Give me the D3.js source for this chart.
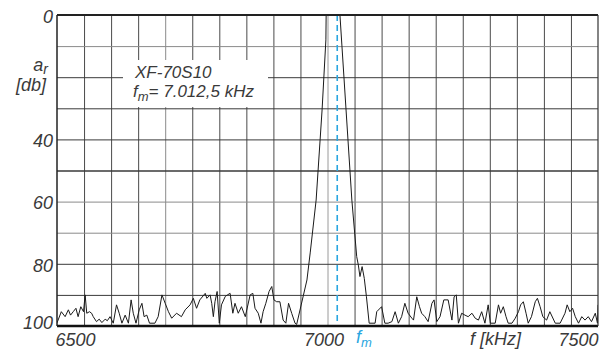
<!DOCTYPE html>
<meta charset="utf-8">
<style>
    body { margin: 0; background: #fff; }
    text { font-family: "Liberation Sans", Arial, sans-serif; font-style: italic; fill: #3a3a3a; }
    .grid line { stroke: #4a4a4a; stroke-width: 1; }
    .grid .domain { display: none; }
    .trace { fill: none; stroke: #1a1a1a; stroke-width: 1; }
</style>
<body>
<script src="https://cdn.jsdelivr.net/npm/d3@7"></script>
<script>
// attenuation curve (kHz / dB)
var freq = [6500, 6508, 6515, 6521, 6525, 6530, 6535, 6539, 6544, 6549, 6552, 6555, 6560, 6564, 6567,
    6573, 6578, 6583, 6589, 6593, 6598, 6604, 6610, 6615, 6620, 6626, 6632, 6637, 6641, 6646, 6652,
    6657, 6661, 6666, 6671, 6681, 6687, 6694, 6700, 6706, 6712, 6721, 6730, 6737, 6746, 6752, 6758,
    6764, 6774, 6777, 6783, 6786, 6789, 6792, 6796, 6800, 6804, 6811, 6815, 6820, 6825, 6829, 6835,
    6841, 6848, 6857, 6862, 6866, 6872, 6877, 6881, 6886, 6892, 6897, 6901, 6906, 6912, 6918, 6923,
    6928, 6934, 6940, 6943, 6962, 6968, 6979, 6990, 6997, 6997.5, 7023, 7045, 7054, 7057, 7060, 7064,
    7068, 7072, 7077, 7088, 7091, 7100, 7106, 7112, 7119, 7125, 7131, 7137, 7143, 7149, 7156, 7159,
    7165, 7170, 7174, 7180, 7186, 7193, 7197, 7202, 7208, 7215, 7223, 7230, 7234, 7238, 7242, 7248,
    7254, 7260, 7267, 7273, 7279, 7285, 7291, 7297, 7301, 7310, 7316, 7320, 7325, 7330, 7334, 7341,
    7347, 7353, 7357, 7362, 7367, 7371, 7377, 7384, 7388, 7393, 7398, 7405, 7411, 7421, 7430, 7439,
    7443, 7448, 7453, 7458, 7464, 7470, 7476, 7482, 7488, 7495, 7499, 7500];
var att = [99, 95.4, 97, 94.8, 96.5, 95.4, 94.3, 97, 93.8, 95.4, 90, 95.9, 95.4, 95.9, 97,
    98.6, 97.8, 98.9, 97.8, 98.3, 97, 99.1, 93.2, 95.9, 99.1, 96.5, 99.1, 91.6, 95.9, 99.1, 94.8,
    92.7, 97, 96.5, 99.1, 99.1, 97, 90, 92.7, 95.4, 97.5, 95.9, 97, 94.8, 93.2, 91.1, 94.3,
    91.6, 89.5, 91.1, 90, 92.7, 97, 92.2, 88.9, 99.1, 93.2, 90.5, 90, 89.5, 95.9, 92.7, 95.9,
    93.8, 97, 90, 89.5, 94.3, 95.9, 99.1, 95.4, 92.7, 88.9, 87.3, 91.6, 92.2, 92.2, 98.1, 99.1,
    92.7, 96, 99.1, 99.5, 85.2, 76.5, 59.5, 30.5, 8, 0, 0, 59.5, 77.7, 80.4, 84.1, 80.9,
    84.7, 90.6, 99.1, 99.1, 95.4, 93.8, 99.1, 99.1, 98.6, 95.4, 99.1, 97, 92.7, 95.9, 97.5, 98.1,
    90.6, 93.8, 95.9, 97, 98.6, 92.7, 91.6, 98.6, 97, 91.6, 91.6, 98.1, 90.6, 90, 99.1, 95.9,
    96.5, 97, 95.9, 97.5, 98.1, 95.4, 99.1, 93.2, 99.1, 99.1, 93.2, 95.9, 93.8, 97, 99.1, 99.1,
    97.5, 95.4, 93.2, 92.2, 95.9, 99.1, 97, 92.2, 91.1, 93.8, 97, 98.1, 95.4, 99.1, 99.1, 95.9,
    93.2, 95.4, 94.3, 97, 99.1, 97, 98.1, 97, 98.6, 95.9, 99.1, 93.2];

var xTicks = [6500, 7000, 7500];
var yTicks = [0, 40, 60, 80, 100];
var fmLine = 7018;   // dashed centre line as drawn

var width = 606, height = 349;
var x = d3.scaleLinear().domain([6500, 7500]).range([57, 598]);
var y = d3.scaleLinear().domain([0, 100]).range([15, 326]);

var svg = d3.select("body").append("svg")
    .attr("width", width)
    .attr("height", height);

// grid, every 50 kHz and every 10 dB
var vgrid = svg.append("g").attr("class", "grid")
    .attr("transform", "translate(0," + y(100) + ")")
    .call(d3.axisBottom(x).tickValues(d3.range(6550, 7500, 50)).tickSize(-(y(100) - y(0))).tickFormat(""));
vgrid.selectAll(".tick line")
    .style("stroke", function (d) { return d == 7000 ? "#9a9a9a" : d == 6700 ? "#8a8a8a" : "#4a4a4a"; });

var hgrid = svg.append("g").attr("class", "grid")
    .attr("transform", "translate(" + x(6500) + ",0)")
    .call(d3.axisLeft(y).tickValues(d3.range(10, 100, 10)).tickSize(-(x(7500) - x(6500))).tickFormat(""));
hgrid.selectAll(".tick line")
    .style("stroke", function (d) { return (d == 10 || d == 60 || d == 70) ? "#8a8a8a" : "#3a3a3a"; })
    .style("stroke-width", function (d) { return d == 50 ? 1.6 : 1; });

// box behind the title text
svg.append("rect")
    .attr("x", 123).attr("y", 60)
    .attr("width", 145).attr("height", 47)
    .attr("fill", "#fff");

// fm centre line
svg.append("line")
    .attr("x1", x(fmLine)).attr("x2", x(fmLine))
    .attr("y1", y(0)).attr("y2", y(100))
    .attr("stroke", "#2aa6e0")
    .attr("stroke-width", 1.6)
    .attr("stroke-dasharray", "6,4");

// the trace
svg.append("defs").append("clipPath").attr("id", "clip")
    .append("rect").attr("x", x(6500)).attr("y", y(0))
    .attr("width", x(7500) - x(6500)).attr("height", y(100) - y(0));

var pts = freq.map(function (f, i) { return [f, att[i]]; });
svg.append("path")
    .datum(pts)
    .attr("class", "trace")
    .attr("clip-path", "url(#clip)")
    .attr("d", d3.line().x(function (d) { return x(d[0]); }).y(function (d) { return y(d[1]); }));

// frame
svg.append("line").attr("x1", x(6500)).attr("x2", x(7500)).attr("y1", y(0)).attr("y2", y(0))
    .attr("stroke", "#222").attr("stroke-width", 2);
svg.append("line").attr("x1", x(6500)).attr("x2", x(7500)).attr("y1", y(100)).attr("y2", y(100))
    .attr("stroke", "#111").attr("stroke-width", 2.5);
svg.append("line").attr("x1", x(6500)).attr("x2", x(6500)).attr("y1", y(0)).attr("y2", y(100))
    .attr("stroke", "#222").attr("stroke-width", 1.5);
svg.append("line").attr("x1", x(7500)).attr("x2", x(7500)).attr("y1", y(0)).attr("y2", y(100))
    .attr("stroke", "#333").attr("stroke-width", 1.2);

// tick labels
var yAxis = svg.append("g")
    .attr("transform", "translate(" + x(6500) + ",0)")
    .call(d3.axisLeft(y).tickValues(yTicks).tickSize(0).tickPadding(4));
yAxis.select(".domain").remove();
yAxis.selectAll("text").style("font-size", "18px").attr("font-family", null)
    .attr("dy", function (d) { return d == 100 ? "0.15em" : "0.4em"; });

var xAxis = svg.append("g")
    .attr("transform", "translate(0," + y(100) + ")")
    .call(d3.axisBottom(x).tickValues(xTicks).tickFormat(d3.format("d")).tickSize(0).tickPadding(7));
xAxis.select(".domain").remove();
xAxis.selectAll("text").style("font-size", "18px").attr("font-family", null)
    .attr("text-anchor", function (d) { return d == 6500 ? "start" : d == 7500 ? "end" : "middle"; })
    .attr("dx", function (d) { return d == 6500 ? -2 : d == 7000 ? -4 : 0; });

// axis titles
var ar = svg.append("text").attr("x", 48).attr("y", 71).attr("text-anchor", "end").style("font-size", "18px");
ar.append("tspan").text("a");
ar.append("tspan").attr("dy", 3).style("font-size", "14px").text("r");
svg.append("text").attr("x", 46).attr("y", 91).attr("text-anchor", "end").style("font-size", "18px").text("[db]");

svg.append("text").attr("x", 470).attr("y", 345).style("font-size", "18px").text("f [kHz]");
var fm = svg.append("text").attr("x", 356).attr("y", 343).style("font-size", "18px").style("fill", "#2aa6e0");
fm.append("tspan").text("f");
fm.append("tspan").attr("dy", 4).style("font-size", "13px").text("m");

// title inside the box
svg.append("text").attr("x", 135).attr("y", 78).style("font-size", "17px").text("XF-70S10");
var t2 = svg.append("text").attr("x", 133).attr("y", 97).style("font-size", "17px");
t2.append("tspan").text("f");
t2.append("tspan").attr("dy", 4).style("font-size", "13px").text("m");
t2.append("tspan").attr("dy", -4).text("= 7.012,5 kHz");
</script>
</body>
